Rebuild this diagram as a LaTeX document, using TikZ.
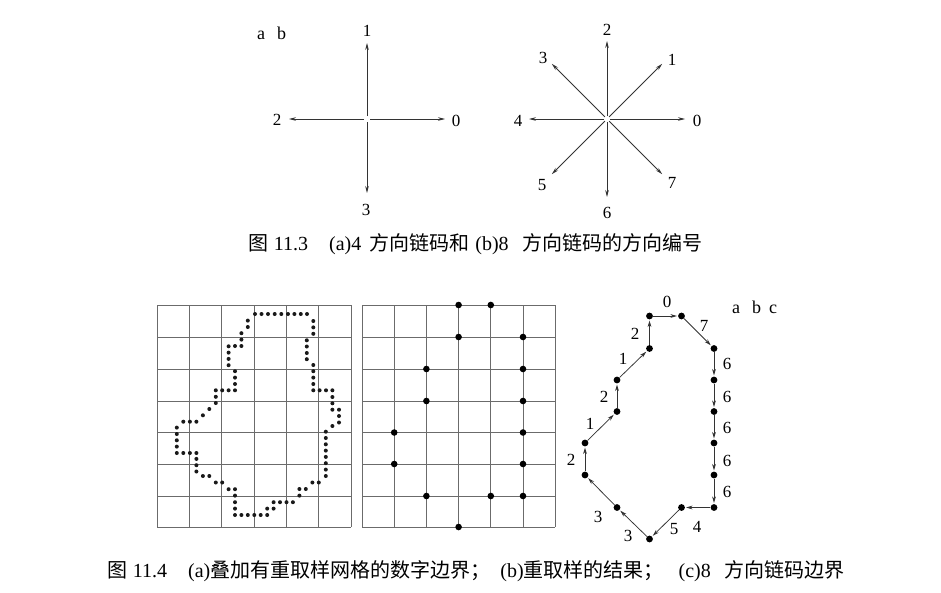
\documentclass[tikz,border=0pt]{standalone}
\usepackage{fontspec}
\setmainfont{Liberation Serif}
\newfontfamily\cjk{Noto Sans CJK SC}
\usetikzlibrary{arrows.meta,calc}
\tikzset{
  dirarrow/.style={draw=black!80, line width=0.75pt, -{Stealth[length=7pt,width=3.6pt]}, shorten <=3pt},
  lbl/.style={font=\fontsize{17}{17}\selectfont, inner sep=0pt},
  gridline/.style={draw=black!58, line width=0.7pt},
  bigdot/.style={circle, fill=black, inner sep=0pt, minimum size=6.8pt},
  chainarrow/.style={draw=black!80, line width=0.75pt, -{Stealth[length=6.5pt,width=3.8pt]}, shorten >=1pt},
  captext/.style={font=\fontsize{20}{20}\selectfont, inner sep=0pt, anchor=west},
}
\begin{document}
\begin{tikzpicture}[x=1pt,y=-1pt]
\useasboundingbox (0,0) rectangle (941,592);
\fill[white] (0,0) rectangle (941,592);

% ---- 4-direction chain code ----
\coordinate (c4) at (367,119);
\coordinate (f0) at (445,119);
\coordinate (f1) at (367,43);
\coordinate (f2) at (289,119);
\coordinate (f3) at (367,193);
\foreach \k in {0,1,2,3} \draw[dirarrow] (c4) -- (f\k);
\node[lbl] (l40) at (456,121) {0};
\node[lbl] (l41) at (367,31) {1};
\node[lbl] (l42) at (277,120) {2};
\node[lbl] (l43) at (366,210) {3};
\node[lbl, anchor=west, font=\fontsize{18}{18}\selectfont] (lab1) at (257,33) {a\hspace{12pt}b};

% ---- 8-direction chain code ----
\coordinate (c8) at (607,119);
\foreach \k in {0,...,7}
  \path (c8) ++ ({78*cos(45*\k)},{-78*sin(45*\k)}) coordinate (d\k);
\foreach \k in {0,...,7} \draw[dirarrow] (c8) -- (d\k);
\node[lbl] (l80) at (697,121) {0};
\node[lbl] (l81) at (672,60) {1};
\node[lbl] (l82) at (607,30) {2};
\node[lbl] (l83) at (543,58) {3};
\node[lbl] (l84) at (518,121) {4};
\node[lbl] (l85) at (542,185) {5};
\node[lbl] (l86) at (607,213) {6};
\node[lbl] (l87) at (672,183) {7};

% ---- grid (a) ----
\foreach \k in {0,...,6} \draw[gridline] ({157+32.33*\k},305) -- ({157+32.33*\k},527);
\foreach \y in {305,337,369,401,432.5,464,496,527} \draw[gridline] (157,\y) -- (351,\y);
\foreach \p in {
 (255,314),(261.5,314),(268,314),(274.7,314),(281.3,314),(288,314),(294.4,314),(300.8,314),(307,314),
 (313.3,321),(313.3,327.4),(313.3,333.8),
 (306.8,340.3),(306.8,346.5),(306.8,353),(306.8,359.2),
 (313.3,365),(313.3,371.2),(313.3,377.6),(313.3,384),(313.3,390.3),
 (319.6,390.3),(326,390.3),(332.4,390.3),
 (332.4,397),(332.4,403.3),(332.4,409.7),
 (339,409.7),(339,416),(339,422.5),
 (332.4,426),
 (325.8,431.7),(325.8,438),(325.8,444.3),(325.8,450.6),(325.8,456.9),(325.8,463.2),(325.8,469.6),(325.8,476),
 (318.8,482.5),(312.4,482.5),
 (305.8,489),(299.4,489),
 (299.4,495.6),
 (292.9,502.2),(286.5,502.2),(280,502.2),(273.6,502.2),
 (273.6,508.6),(267.2,508.6),
 (267.2,515),(260.7,515),(254.3,515),(247.8,515),(241.4,515),(235,515),
 (235,508.6),(235,502.2),(235,495.6),(235,489.2),
 (228.6,489.2),
 (222.2,482.5),(215.8,482.5),
 (209.3,476),(202.9,476),
 (196.4,471.5),(196.4,465.2),(196.4,458.9),(196.4,453),
 (189.9,453),(183.3,453),(176.8,453),
 (176.8,446.6),(176.8,440.3),(176.8,434),(176.8,427.6),
 (183.3,421.7),(189.9,421.7),(196.4,421.7),
 (202.9,415.3),(209.3,409),
 (215.8,403),(215.8,396.8),(215.8,390.3),
 (222.2,390.3),(228.6,390.3),(235,390.3),
 (235,384),(235,377.6),(235,371.2),
 (228.6,365.2),(228.6,358.9),(228.6,352.6),(228.6,346.3),
 (235,346),(241.4,346),
 (241.4,339.6),(241.4,333.2),
 (247.8,327),(247.8,320.6)}
  \fill[black!90] \p circle (2.0);

% ---- grid (b) ----
\foreach \k in {0,...,6} \draw[gridline] ({362+32.2*\k},305) -- ({362+32.2*\k},527);
\foreach \y in {305,337,369,401,432.5,464,496,527} \draw[gridline] (362,\y) -- (555.2,\y);
\foreach \p in {(458.6,305),(490.8,305),(458.6,337),(523,337),(426.4,369),(523,369),
  (426.4,401),(523,401),(394.2,432.5),(523,432.5),(394.2,464),(523,464),
  (426.4,496),(490.8,496),(523,496),(458.6,527)}
  \fill[black] \p circle (3.3);

% ---- chain code boundary (c) ----
\node[bigdot] (n1) at (649.5,316) {};
\node[bigdot] (n2) at (681.5,316) {};
\node[bigdot] (n3) at (714,348.5) {};
\node[bigdot] (n4) at (714,380) {};
\node[bigdot] (n5) at (714,411.5) {};
\node[bigdot] (n6) at (714,443) {};
\node[bigdot] (n7) at (714,475) {};
\node[bigdot] (n8) at (714,507.5) {};
\node[bigdot] (n9) at (681.5,507.5) {};
\node[bigdot] (n10) at (649.5,539) {};
\node[bigdot] (n11) at (617,507.5) {};
\node[bigdot] (n12) at (585,475) {};
\node[bigdot] (n13) at (585,443) {};
\node[bigdot] (n14) at (617,411.5) {};
\node[bigdot] (n15) at (617,380) {};
\node[bigdot] (n16) at (649.5,348.5) {};
\foreach \a/\b in {1/2,2/3,3/4,4/5,5/6,6/7,7/8,8/9,9/10,10/11,11/12,12/13,13/14,14/15,15/16,16/1}
  \draw[chainarrow] (n\a) -- (n\b);
\node[lbl] (t1) at (667,302) {0};
\node[lbl] (t2) at (704,326) {7};
\node[lbl] (t3) at (727,364) {6};
\node[lbl] (t4) at (727,397) {6};
\node[lbl] (t5) at (727,428) {6};
\node[lbl] (t6) at (727,461) {6};
\node[lbl] (t7) at (727,492) {6};
\node[lbl] (t8) at (697,527) {4};
\node[lbl] (t9) at (674,529) {5};
\node[lbl] (t10) at (628,536) {3};
\node[lbl] (t11) at (598,517) {3};
\node[lbl] (t12) at (571,460) {2};
\node[lbl] (t13) at (590,424) {1};
\node[lbl] (t14) at (604,397) {2};
\node[lbl] (t15) at (623,359) {1};
\node[lbl] (t16) at (635,334) {2};
\node[lbl, anchor=west, font=\fontsize{18}{18}\selectfont] (lab2) at (732,307) {a\hspace{12pt}b\hspace{8pt}c};

% ---- captions ----
\node[captext] (cap1) at (248,244) {{\cjk 图}\hspace{5.7pt}11.3\hspace{21pt}(a)4\hspace{8pt}{\cjk 方向链码和}\hspace{6pt}(b)8\hspace{14pt}{\cjk 方向链码的方向编号}};
\node[captext] (cap2) at (107,571) {{\cjk 图}\hspace{5.7pt}11.4\hspace{21pt}(a){\cjk 叠加有重取样网格的数字边界；}\hspace{10pt}(b){\cjk 重取样的结果；}\hspace{15pt}(c)8\hspace{14pt}{\cjk 方向链码边界}};
\end{tikzpicture}
\end{document}
